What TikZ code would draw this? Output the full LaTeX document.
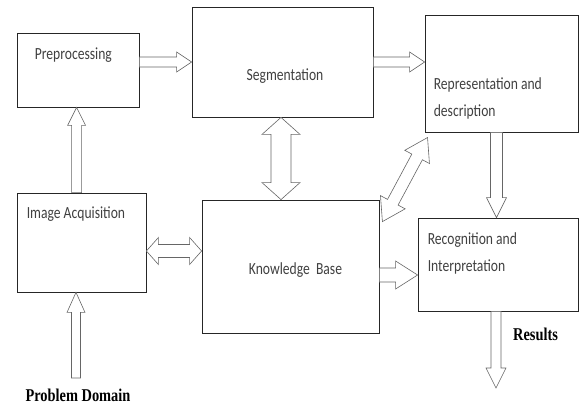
\documentclass[tikz,border=0pt]{standalone}
\usepackage{fontspec}
\usepackage{tikz}
\usetikzlibrary{calc}
\newfontfamily\boxfont[FakeStretch=0.8]{Carlito}
\newfontfamily\labfont[FakeStretch=0.8]{Liberation Serif}

% hollow block arrows: from, to, shaft, head, head length
\newcommand{\fatarrow}[5]{%
  \draw[fatline] let \p1=#1, \p2=#2, \n1={atan2(\y2-\y1,\x2-\x1)}, \n2={veclen(\x2-\x1,\y2-\y1)} in
    [shift={(\p1)}, rotate=\n1]
    (0pt,{#3*0.5pt}) -- ({\n2*1pt-#5*1pt},{#3*0.5pt}) -- ({\n2*1pt-#5*1pt},{#4*0.5pt})
    -- ({\n2*1pt},0pt) -- ({\n2*1pt-#5*1pt},{-#4*0.5pt}) -- ({\n2*1pt-#5*1pt},{-#3*0.5pt})
    -- (0pt,{-#3*0.5pt}) -- cycle;}
\newcommand{\fatdouble}[5]{%
  \draw[fatline] let \p1=#1, \p2=#2, \n1={atan2(\y2-\y1,\x2-\x1)}, \n2={veclen(\x2-\x1,\y2-\y1)} in
    [shift={(\p1)}, rotate=\n1]
    (0pt,0pt) -- ({#5*1pt},{#4*0.5pt}) -- ({#5*1pt},{#3*0.5pt})
    -- ({\n2*1pt-#5*1pt},{#3*0.5pt}) -- ({\n2*1pt-#5*1pt},{#4*0.5pt})
    -- ({\n2*1pt},0pt) -- ({\n2*1pt-#5*1pt},{-#4*0.5pt}) -- ({\n2*1pt-#5*1pt},{-#3*0.5pt})
    -- ({#5*1pt},{-#3*0.5pt}) -- ({#5*1pt},{-#4*0.5pt}) -- cycle;}

\tikzset{
  block/.style={draw=black!85, line width=0.8pt, inner sep=0pt},
  boxtext/.style={text=black!75, inner sep=0pt, font=\boxfont\fontsize{17}{27}\selectfont},
  outtext/.style={inner sep=0pt, font=\labfont\bfseries\fontsize{18}{20}\selectfont},
  fatline/.style={draw=black!60, fill=white, line width=0.6pt, line join=miter}
}

\begin{document}
\begin{tikzpicture}[x=1pt, y=-1pt]
    \useasboundingbox (0,0) rectangle (579,405);
    % boxes
    \node [block, minimum width=122pt, minimum height=74pt] (pre) at (78,70) {};
    \node [block, minimum width=181pt, minimum height=110pt] (seg) at (282.5,62) {};
    \node [block, minimum width=153pt, minimum height=117pt] (rep) at (501.5,73.5) {};
    \node [block, minimum width=129pt, minimum height=99pt] (ia) at (81.5,242.5) {};
    \node [block, minimum width=177pt, minimum height=133pt] (kb) at (290.5,266.5) {};
    \node [block, minimum width=160pt, minimum height=93pt] (rec) at (498,264.5) {};
    % box texts
    \node [boxtext, anchor=west] (pretxt) at ($(pre.north west)+(18,23)$) {Preprocessing};
    \node [boxtext] (segtxt) at ($(seg.center)+(2.5,14)$) {Segmentation};
    \node [boxtext, anchor=west, align=left] (reptxt) at ($(rep.north west)+(9,84)$) {Representation and\\description};
    \node [boxtext, anchor=west] (iatxt) at ($(ia.north west)+(10,21)$) {Image Acquisition};
    \node [boxtext] (kbtxt) at ($(kb.center)+(5,4)$) {Knowledge\ \ Base};
    \node [boxtext, anchor=west, align=left] (rectxt) at ($(rec.north west)+(10,36)$) {Recognition and\\Interpretation};
    % outside labels
    \node [outtext] (pd) at (78,395) {Problem Domain};
    \node [outtext, anchor=west] (res) at (513,334) {Results};
    \coordinate (pdtop) at (76,378);
    \coordinate (out) at (496,388);
    % block arrows
    \fatarrow{(pre.east |- seg.west)}{(seg.west)}{10}{20}{15}
    \fatarrow{(seg.east)}{(rep.west |- seg.east)}{10}{20}{15}
    \fatarrow{($(ia.north west)+(60,0)$)}{($(pre.south west)+(60,0)$)}{10}{18}{18}
    \fatdouble{($(seg.south)+(-1.5,0)$)}{($(seg.south |- kb.north)+(-1.5,0)$)}{20}{38}{17}
    \fatdouble{($(ia.east)+(0,8.5)$)}{($(kb.west |- ia.east)+(0,8.5)$)}{13}{27}{12}
    \fatarrow{($(kb.east)+(0,8.5)$)}{($(rec.west |- kb.east)+(0,8.5)$)}{14}{28}{22}
    \fatarrow{($(rep.south)+(-5,0)$)}{($(rep.south |- rec.north)+(-5,0)$)}{12}{20}{20}
    \fatdouble{($(kb.north east)+(3,22)$)}{($(rep.south west)+(3,5)$)}{12}{28}{22}
    \fatarrow{(pdtop)}{(ia.south -| pdtop)}{9}{18}{20}
    \fatarrow{(rec.south -| out)}{(out)}{10}{20}{20}
\end{tikzpicture}
\end{document}
